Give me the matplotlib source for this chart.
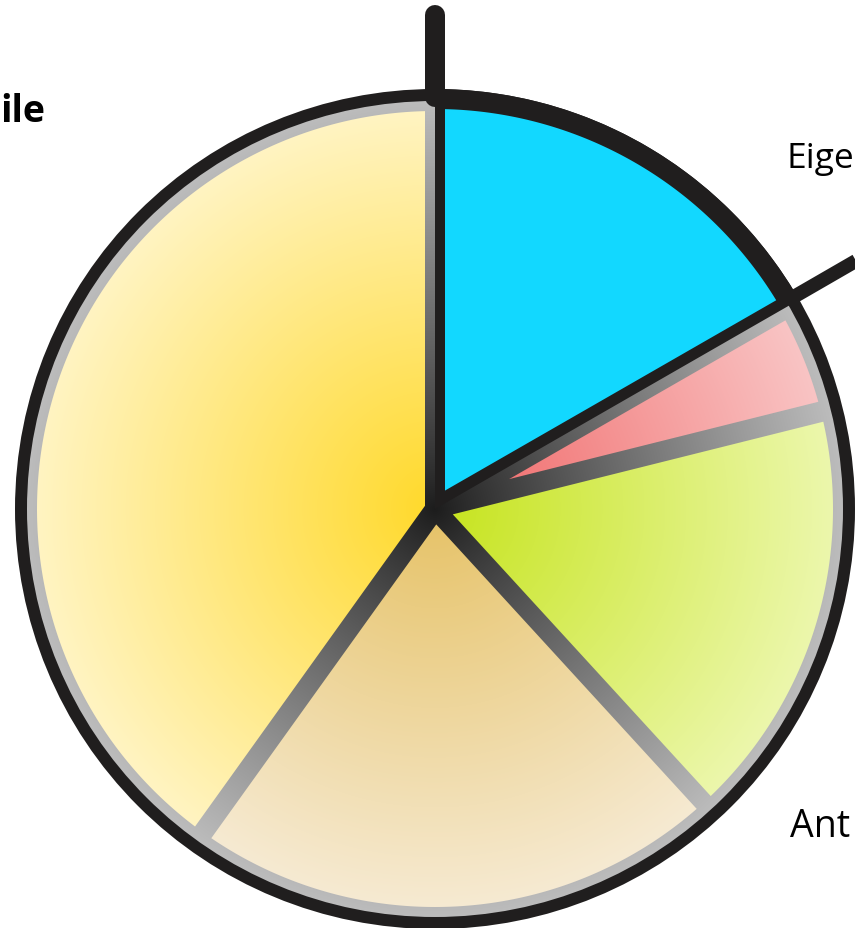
import numpy as np
import matplotlib
matplotlib.use('Agg')
import matplotlib.pyplot as plt
from matplotlib.patches import Polygon, Circle, Wedge

# slice data (clockwise from 12 o'clock), percent shares
values = [16.7, 4.4, 17.1, 21.7, 40.1]
inner_colors = ['#12d8ff', '#f06464', '#c6e41c', '#e6c266', '#ffd92a']
outer_colors = ['#12d8ff', '#f9c4c4', '#ecf7ac', '#f6ead2', '#fff4c2']
label_texts = ['ile', 'Eige', 'Ant']

W, H = 855, 929
cx, cy = 435, H - 510
R_outer, R_gray, R_fill = 420, 408, 398

fig = plt.figure(figsize=(W / 100, H / 100), dpi=100)
ax = fig.add_axes([0, 0, 1, 1])
ax.set_xlim(0, W)
ax.set_ylim(0, H)
ax.set_aspect('equal')
ax.axis('off')

xx, yy = np.meshgrid(np.arange(W) + 0.5, np.arange(H) + 0.5)
rr = np.hypot(xx - cx, yy - cy)


def radial_image(c0, c1, rmax, power=1.0):
    t = np.clip(rr / rmax, 0, 1) ** power
    a = np.array(matplotlib.colors.to_rgb(c0))
    b = np.array(matplotlib.colors.to_rgb(c1))
    return a + (b - a) * t[..., None]


def inset_polygon(th_lo, th_hi, d_lo, d_hi, r):
    lo, hi = np.radians(th_lo), np.radians(th_hi)
    u_lo = np.array([np.cos(lo), np.sin(lo)])
    u_hi = np.array([np.cos(hi), np.sin(hi)])
    n_lo = np.array([-np.sin(lo), np.cos(lo)])
    n_hi = np.array([np.sin(hi), -np.cos(hi)])
    A = np.column_stack([u_lo, -u_hi])
    s, _ = np.linalg.solve(A, d_hi * n_hi - d_lo * n_lo)
    apex = s * u_lo + d_lo * n_lo
    a1 = lo + np.arcsin(d_lo / r)
    a2 = hi - np.arcsin(d_hi / r)
    ang = np.linspace(a1, a2, 200)
    pts = [apex] + [np.array([r * np.cos(a), r * np.sin(a)]) for a in ang]
    return np.array(pts) + np.array([cx, cy])


# outer black disc
ax.add_patch(Circle((cx, cy), R_outer, facecolor='#201e1e', edgecolor='none', zorder=1))

# gray gradient border disc
gray = ax.imshow(radial_image('#1c1c1c', '#bcbcbc', R_gray, 0.9), extent=(0, W, 0, H),
                 origin='lower', interpolation='bilinear', zorder=2)
gdisc = Circle((cx, cy), R_gray, transform=ax.transData)
gray.set_clip_path(gdisc)

# slice angles
fracs = np.array(values) / sum(values)
ends = 90 - np.cumsum(fracs) * 360
starts = np.concatenate([[90], ends[:-1]])

offsets = [10, 11, 9.5, 9.5, 10]
for i, (a_start, a_end) in enumerate(zip(starts, ends)):
    th_hi, th_lo = a_start, a_end
    d_hi = offsets[i]
    d_lo = offsets[(i + 1) % len(values)]
    if i == 1:
        d_hi, d_lo = 11, 11
    if i == 0:
        ax.add_patch(Wedge((cx, cy), R_outer, th_lo, th_hi, facecolor='#201e1e',
                           edgecolor='none', zorder=3))
        r_fill = R_fill + 2
    else:
        r_fill = R_fill
    poly = Polygon(inset_polygon(th_lo, th_hi, d_lo, d_hi, r_fill), closed=True,
                   facecolor='none', edgecolor='none', transform=ax.transData)
    ax.add_patch(poly)
    im = ax.imshow(radial_image(inner_colors[i], outer_colors[i], R_fill),
                   extent=(0, W, 0, H), origin='lower', interpolation='bilinear', zorder=4)
    im.set_clip_path(poly)

# leader lines
ax.plot([435, 435], [H - 16, H - 98], color='#201e1e', lw=14.4,
        solid_capstyle='round', zorder=5)
ax.plot([790, 880], [H - 300, H - 248], color='#201e1e', lw=10,
        solid_capstyle='butt', zorder=5)

# labels
font = 'Open Sans'
ax.text(45, H - 122, label_texts[0], ha='right', va='baseline', fontsize=27,
        fontweight='bold', family=font, color='black')
ax.text(786, H - 168, label_texts[1], ha='left', va='baseline', fontsize=25.5,
        family=font, color='black')
ax.text(790, H - 837, label_texts[2], ha='left', va='baseline', fontsize=27,
        family=font, color='black')

ax.set_xlim(0, W)
ax.set_ylim(0, H)
fig.savefig('out.png', dpi=100)
